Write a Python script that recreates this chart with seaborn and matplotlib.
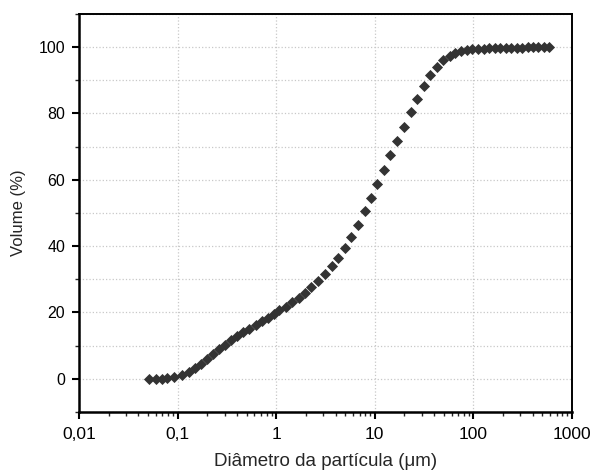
import numpy as np
import pandas as pd
import seaborn as sns
import matplotlib.pyplot as plt
from matplotlib.ticker import FixedLocator, FixedFormatter, LogLocator, NullFormatter, MultipleLocator

# particle size distribution (cumulative volume)
diameter_um = [
    0.051, 0.060, 0.069, 0.079, 0.091,
    0.112, 0.131, 0.150, 0.173, 0.199, 0.229, 0.266, 0.306, 0.352, 0.405,
    0.466, 0.536, 0.617, 0.710, 0.817, 0.940, 1.08, 1.26, 1.46, 1.70,
    1.96, 2.28, 2.65, 3.13, 3.64, 4.24, 4.99, 5.74, 6.76, 7.87,
    9.15, 10.5, 12.4, 14.4, 16.8, 19.8, 23.3, 26.8, 31.2, 36.3,
    42.3, 49.2, 57.3, 65.8, 75.7, 86.1, 97.9, 111, 127, 144,
    164, 186, 212, 241, 274, 311, 354, 402, 457, 520, 585,
]
volume_pct = [
    0.0, 0.0, 0.0, 0.1, 0.4,
    1.0, 2.0, 3.2, 4.6, 6.0, 7.5, 9.0, 10.3, 11.6, 12.8,
    14.0, 15.1, 16.2, 17.3, 18.4, 19.5, 20.6, 21.8, 23.1, 24.5,
    26.0, 27.7, 29.6, 31.7, 34.0, 36.5, 39.5, 42.8, 46.5, 50.5,
    54.5, 58.7, 63.0, 67.4, 71.7, 76.0, 80.5, 84.5, 88.3, 91.5,
    94.0, 96.0, 97.4, 98.2, 98.8, 99.1, 99.3, 99.4, 99.5, 99.6,
    99.6, 99.7, 99.7, 99.8, 99.8, 99.8, 99.9, 99.9, 99.9, 100.0, 100.0,
]

x_ticks = [0.01, 0.1, 1, 10, 100, 1000]
x_tick_labels = ["0,01", "0,1", "1", "10", "100", "1000"]
y_ticks = [0, 20, 40, 60, 80, 100]

df = pd.DataFrame({"d": diameter_um, "v": volume_pct})

sns.set_style("white")
plt.rcParams["font.family"] = ["Liberation Sans", "DejaVu Sans"]

fig = plt.figure(figsize=(5.93, 4.76), dpi=100)
ax = fig.add_axes([0.1332, 0.1345, 0.8314, 0.8361])

ax.set_xscale("log")
sns.scatterplot(data=df, x="d", y="v", marker="D", s=32, color="#333333",
                edgecolor="#333333", linewidth=0, ax=ax, zorder=3)

ax.set_xlim(0.01, 1000)
ax.set_ylim(-10, 110)

ax.xaxis.set_major_locator(FixedLocator(x_ticks))
ax.xaxis.set_major_formatter(FixedFormatter(x_tick_labels))
ax.xaxis.set_minor_locator(LogLocator(base=10, subs=np.arange(2, 10), numticks=20))
ax.xaxis.set_minor_formatter(NullFormatter())
ax.yaxis.set_major_locator(FixedLocator(y_ticks))
ax.yaxis.set_minor_locator(MultipleLocator(10))

ax.grid(True, which="major", axis="x", color="#c8c8c8", linestyle=":", linewidth=0.9)
ax.grid(True, which="both", axis="y", color="#c8c8c8", linestyle=":", linewidth=0.9)

ax.tick_params(axis="both", which="major", direction="out", length=5, width=1.5,
               colors="black", bottom=True, left=True)
ax.tick_params(axis="x", which="major", labelsize=12.5, pad=6)
ax.tick_params(axis="y", which="major", labelsize=11.5, pad=5)
ax.tick_params(axis="both", which="minor", direction="out", length=3, width=1,
               bottom=True, left=True)

for side in ["left", "bottom"]:
    ax.spines[side].set_linewidth(1.8)
for side in ["top", "right"]:
    ax.spines[side].set_linewidth(1.4)
for sp in ax.spines.values():
    sp.set_color("black")

ax.set_xlabel("Diâmetro da partícula (μm)", fontsize=13.5, labelpad=8)
ax.set_ylabel("Volume (%)", fontsize=12, labelpad=9)

fig.savefig("out.png", dpi=100)
